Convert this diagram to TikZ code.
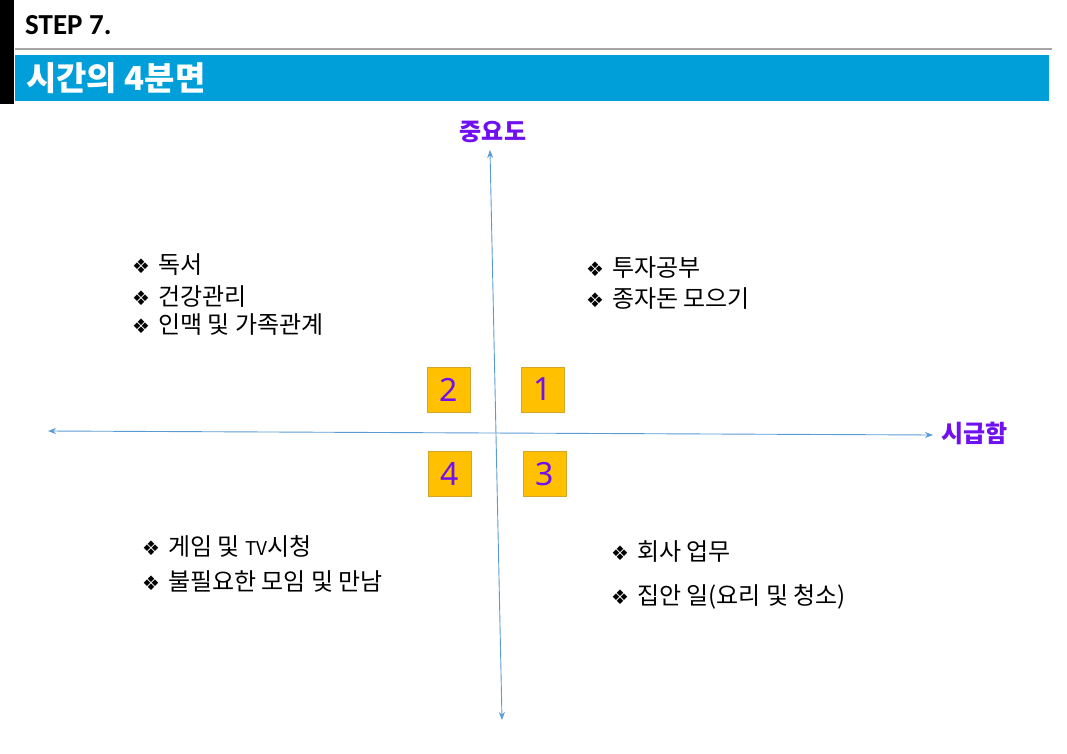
\documentclass[tikz,border=0pt]{standalone}
\usepackage{fontspec}
\setmainfont{Noto Sans CJK KR}
\newfontfamily\stepfont{Carlito}
\newfontfamily\symfont{DejaVu Sans}
\newfontfamily\numfont{Noto Sans}
\usetikzlibrary{arrows.meta}
\definecolor{barblue}{HTML}{009FD9}
\definecolor{axisblue}{HTML}{5B9BD5}
\definecolor{boxgold}{HTML}{FFC000}
\definecolor{boxedge}{HTML}{D4A52A}
\definecolor{violet}{HTML}{7010F0}
\tikzset{
  axis/.style={draw=axisblue, line width=0.9pt, {Stealth[length=8pt,width=6pt]}-{Stealth[length=8pt,width=6pt]}},
  numbox/.style={draw=boxedge, fill=boxgold, line width=0.8pt, minimum width=43pt, minimum height=45pt, inner sep=0pt, font=\numfont\fontsize{32}{34}\selectfont, text=violet},
  axlabel/.style={font=\bfseries\fontsize{24}{26}\selectfont, text=violet, inner sep=0pt},
  item/.style={anchor=west, inner sep=0pt, font=\fontsize{24}{26}\selectfont},
}
\newcommand{\bul}{{\symfont\fontsize{20}{22}\selectfont ❖}\hspace{8pt}}
\begin{document}
\begin{tikzpicture}[x=1pt,y=-1pt]
\useasboundingbox (0,0) rectangle (1067,754);
\fill[black] (0,0) rectangle (14,104);
\draw[gray!70, line width=1.2pt] (15,49) -- (1052,49);
\fill[barblue] (15,55) rectangle (1049,101);
\node[anchor=west, inner sep=0pt, font=\stepfont\bfseries\fontsize{29}{31}\selectfont] (step) at (25,25) {STEP 7.};
\node[anchor=west, inner sep=0pt, text=white, font=\bfseries\fontsize{33}{35}\selectfont] (title) at (26,78) {시간의 4분면};

\coordinate (L) at (48,431);
\coordinate (R) at (933,435);
\coordinate (T) at (490,150);
\coordinate (B) at (502,720);
\draw[axis] (L) -- (R);
\draw[axis] (T) -- (B);

\node[axlabel] (imp) at (493,132) {중요도};
\node[axlabel, anchor=west] (urg) at (941,433) {시급함};

\node[numbox] (b2) at (448.5,389.5) {2};
\node[numbox] (b1) at (542.5,389.5) {1};
\node[numbox] (b4) at (450,474) {4};
\node[numbox] (b3) at (544.5,474) {3};

\node[item] (a1) at (132,265) {\bul 독서};
\node[item] (a2) at (132,297) {\bul 건강관리};
\node[item] (a3) at (132,325) {\bul 인맥 및 가족관계};

\node[item] (c1) at (586,268) {\bul 투자공부};
\node[item] (c2) at (586,299) {\bul 종자돈 모으기};

\node[item] (d1) at (142,546) {\bul 게임 및 {\fontsize{19}{21}\selectfont TV}시청};
\node[item] (d2) at (142,581) {\bul 불필요한 모임 및 만남};

\node[item] (e1) at (611,552) {\bul 회사 업무};
\node[item] (e2) at (611,597) {\bul 집안 일(요리 및 청소)};
\end{tikzpicture}
\end{document}
